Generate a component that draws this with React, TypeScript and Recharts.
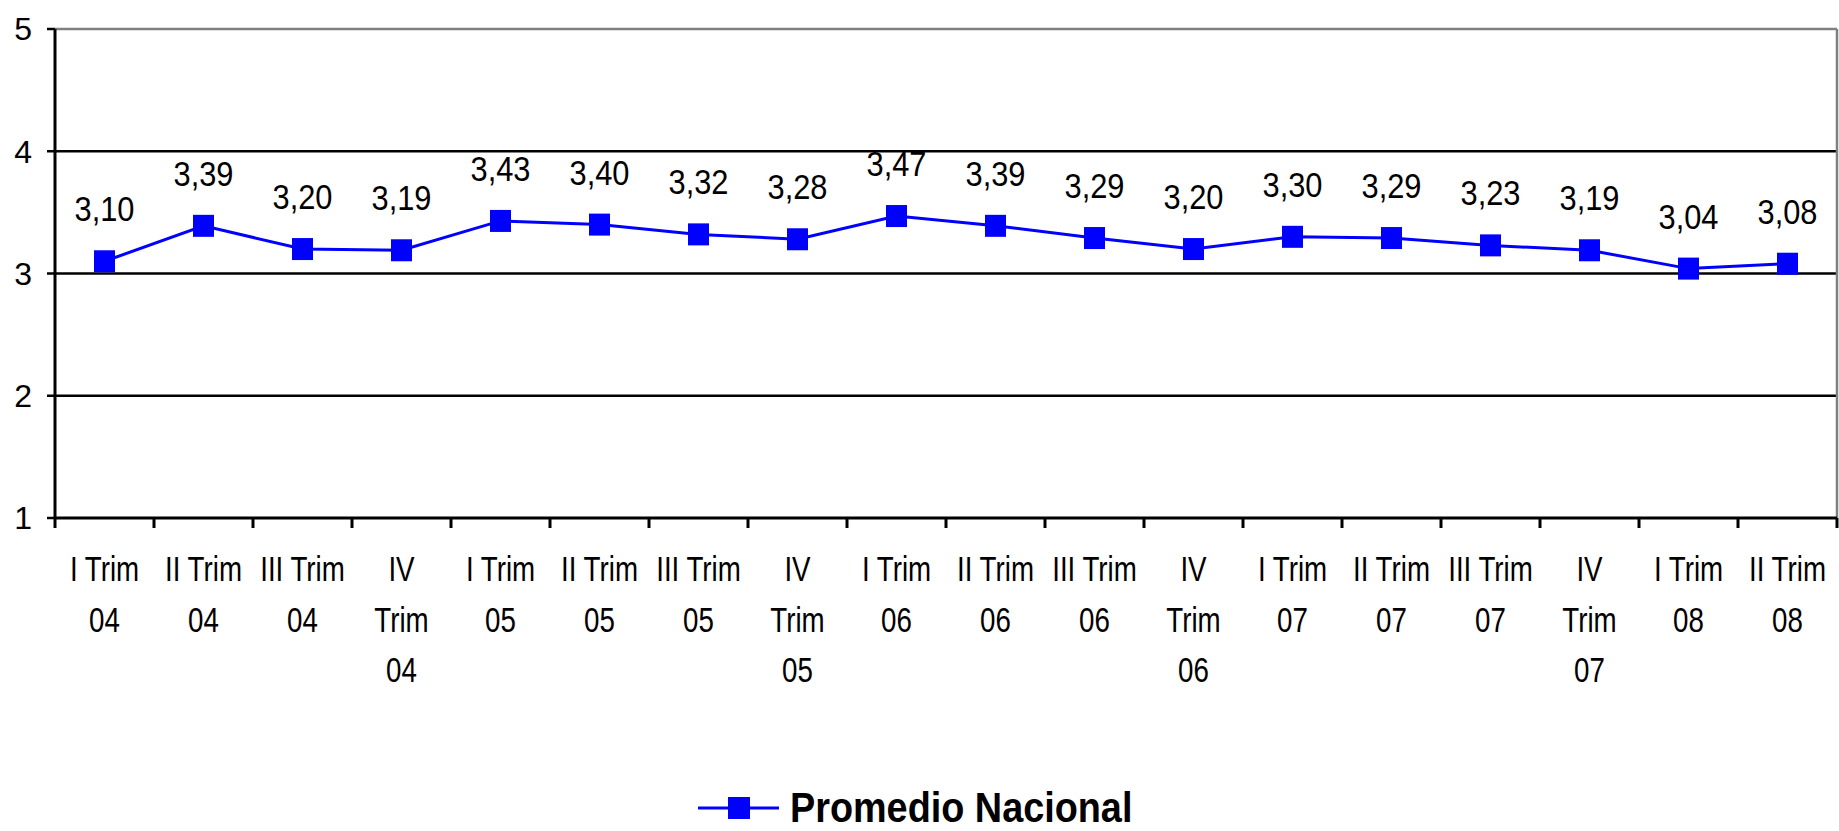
import {
  CartesianGrid,
  LabelList,
  Legend,
  Line,
  LineChart,
  ReferenceLine,
  XAxis,
  YAxis,
} from "recharts";

const categories = [
  "I Trim 04", "II Trim 04", "III Trim 04", "IV Trim 04",
  "I Trim 05", "II Trim 05", "III Trim 05", "IV Trim 05",
  "I Trim 06", "II Trim 06", "III Trim 06", "IV Trim 06",
  "I Trim 07", "II Trim 07", "III Trim 07", "IV Trim 07",
  "I Trim 08", "II Trim 08",
];
const promedio = [
  3.1, 3.39, 3.2, 3.19, 3.43, 3.4, 3.32, 3.28, 3.47,
  3.39, 3.29, 3.2, 3.3, 3.29, 3.23, 3.19, 3.04, 3.08,
];
const yTicks = [1, 2, 3, 4, 5];
const gridValues = [2, 3, 4];

const data = categories.map((c, i) => ({ idx: i, label: c, value: promedio[i] }));
// centers carry labels, half steps carry the boundary tick marks
const xTicks: number[] = [];
for (let i = 0; i < categories.length; i++) xTicks.push(i - 0.5, i);
xTicks.push(categories.length - 0.5);

// no narrow font installed, so squeeze Liberation Sans horizontally
const SANS = "'Liberation Sans', Arial, sans-serif";
const BLUE = "#0000FF";

function splitLabel(label: string) {
  const w = label.split(" ");
  if (w[0] === "IV") return w;
  return [w[0] + " " + w[1], w[2]];
}

function XTick(props: any) {
  const { x, y, payload } = props;
  const v = payload.value as number;
  if (!Number.isInteger(v)) {
    return <line x1={x} x2={x} y1={y} y2={y + 10} stroke="#000" strokeWidth={3} />;
  }
  const lines = splitLabel(categories[v]);
  return (
    <g>
      {lines.map((l, i) => (
        <text
          key={i}
          transform={`translate(${x},${y + 63 + i * 50.5}) scale(0.77,1)`}
          textAnchor="middle"
          fontFamily={SANS}
          fontSize={36}
          fill="#000"
        >
          {l}
        </text>
      ))}
    </g>
  );
}

function Square(props: any) {
  const { cx, cy } = props;
  if (cx == null || cy == null) return null;
  return <rect x={cx - 10.5} y={cy - 11} width={21} height={22} fill={BLUE} />;
}

function ValueLabel(props: any) {
  const { x, y, value } = props;
  return (
    <text
      transform={`translate(${x},${y - 40}) scale(0.88,1)`}
      textAnchor="middle"
      fontFamily={SANS}
      fontSize={35}
      fill="#000"
    >
      {Number(value).toFixed(2).replace(".", ",")}
    </text>
  );
}

function LegendBox() {
  return (
    <div style={{ display: "flex", alignItems: "center", height: 38 }}>
      <svg width={81} height={24}>
        <line x1={0} x2={81} y1={12} y2={12} stroke={BLUE} strokeWidth={3} />
        <rect x={30} y={1} width={22} height={22} fill={BLUE} />
      </svg>
      <span
        style={{
          marginLeft: 11,
          fontFamily: SANS,
          fontWeight: "bold",
          fontSize: 42,
          color: "#000",
          lineHeight: "38px",
          display: "inline-block",
          transform: "scaleX(0.9)",
          transformOrigin: "left center",
          whiteSpace: "nowrap",
        }}
      >
        Promedio Nacional
      </span>
    </div>
  );
}

export default function App() {
  return (
    <div style={{ position: "absolute", left: 0, top: 0, background: "#fff" }}>
      <LineChart
        width={1839}
        height={831}
        data={data}
        margin={{ top: 29, right: 2, left: 0, bottom: 0 }}
      >
        <CartesianGrid
          horizontal
          vertical={false}
          horizontalValues={gridValues}
          stroke="#000"
          strokeWidth={2.5}
        />
        <ReferenceLine y={5} stroke="#808080" strokeWidth={2.5} />
        <ReferenceLine x={17.5} stroke="#808080" strokeWidth={2.5} />
        <XAxis
          dataKey="idx"
          type="number"
          domain={[-0.5, 17.5]}
          ticks={xTicks}
          interval={0}
          height={275}
          tickLine={false}
          tickSize={0}
          tickMargin={0}
          axisLine={{ stroke: "#000", strokeWidth: 3 }}
          tick={<XTick />}
        />
        <YAxis
          domain={[1, 5]}
          ticks={yTicks}
          width={55}
          tickSize={8}
          tickMargin={15}
          axisLine={{ stroke: "#000", strokeWidth: 3 }}
          tickLine={{ stroke: "#000", strokeWidth: 2.5 }}
          tick={{ fontFamily: SANS, fontSize: 32, fill: "#000" }}
        />
        <Legend
          verticalAlign="bottom"
          content={<LegendBox />}
          wrapperStyle={{ left: 698, bottom: 4, width: "auto", height: 38 }}
        />
        <Line
          dataKey="value"
          stroke={BLUE}
          strokeWidth={3}
          dot={<Square />}
          activeDot={false}
          isAnimationActive={false}
        >
          <LabelList dataKey="value" content={<ValueLabel />} />
        </Line>
      </LineChart>
    </div>
  );
}
